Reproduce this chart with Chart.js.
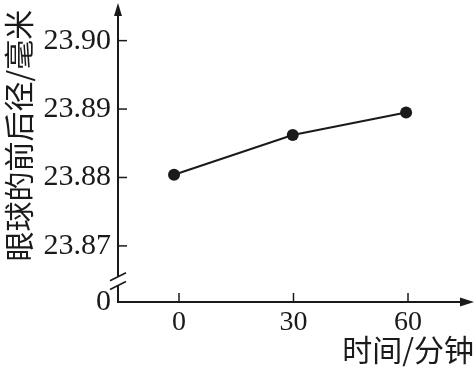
<!DOCTYPE html>
<html>
<head>
<meta charset="utf-8">
<script src="https://cdn.jsdelivr.net/npm/chart.js@4/dist/chart.umd.min.js"></script>
<style>
html,body{margin:0;padding:0;background:#fff;}
#c{display:block;}
</style>
</head>
<body>
<canvas id="c" width="476" height="370"></canvas>
<script>
// ---- data ----
const timeMinutes = [-1.3, 29.8, 59.5];          // measured x positions of points
const eyeLength = [23.8804, 23.8862, 23.8895];    // 眼球的前后径 (mm)
const xTickValues = [0, 30, 60];
const xTickLabels = ['0', '30', '60'];
const yTickValues = [23.87, 23.88, 23.89, 23.90];
const yTickLabels = ['23.87', '23.88', '23.89', '23.90'];
const yZeroLabel = '0';
const xTitle = '时间/分钟';
const yTitle = '眼球的前后径/毫米';
// axis extents (broken axis)
const xMin = -15.98, xMax = 77.29;
const yMin = 23.8618, yMax = 23.9055;
const breakTop = 23.8655, breakBottom = 23.8642;

const ink = '#1a1a1a';
const serif = "'Liberation Serif', 'Times New Roman', serif";
const cjk = "'Noto Sans CJK SC', sans-serif";

const axesPlugin = {
  id: 'customAxes',
  beforeDatasetsDraw(chart) {
    const {ctx, chartArea: a, scales: {x, y}} = chart;
    ctx.save();
    ctx.strokeStyle = ink;
    ctx.fillStyle = ink;
    ctx.lineWidth = 2;
    ctx.lineCap = 'butt';
    const ax = a.left, ay = a.bottom;
    const bT = y.getPixelForValue(breakTop);
    const bB = y.getPixelForValue(breakBottom);
    // y axis (two segments with a break)
    ctx.beginPath();
    ctx.moveTo(ax, ay + 1);
    ctx.lineTo(ax, bB);
    ctx.moveTo(ax, bT);
    ctx.lineTo(ax, a.top + 8);
    ctx.stroke();
    // y arrow
    ctx.beginPath();
    ctx.moveTo(ax, a.top);
    ctx.lineTo(ax - 4, a.top + 13);
    ctx.lineTo(ax + 4, a.top + 13);
    ctx.closePath();
    ctx.fill();
    // break slashes
    ctx.lineWidth = 1.6;
    [bT, bB].forEach(py => {
      ctx.beginPath();
      ctx.moveTo(ax - 8, py + 4);
      ctx.lineTo(ax + 8, py - 4);
      ctx.stroke();
    });
    // x axis
    ctx.lineWidth = 2;
    ctx.beginPath();
    ctx.moveTo(ax - 1, ay);
    ctx.lineTo(a.right - 8, ay);
    ctx.stroke();
    ctx.beginPath();
    ctx.moveTo(a.right, ay);
    ctx.lineTo(a.right - 14, ay - 4.5);
    ctx.lineTo(a.right - 14, ay + 4.5);
    ctx.closePath();
    ctx.fill();
    // inward tick marks
    ctx.lineWidth = 1.5;
    yTickValues.forEach(v => {
      const py = y.getPixelForValue(v);
      ctx.beginPath();
      ctx.moveTo(ax, py);
      ctx.lineTo(ax + 9, py);
      ctx.stroke();
    });
    xTickValues.forEach(v => {
      const px = x.getPixelForValue(v);
      ctx.beginPath();
      ctx.moveTo(px, ay);
      ctx.lineTo(px, ay - 9);
      ctx.stroke();
    });
    ctx.restore();
  }
};

new Chart(document.getElementById('c'), {
  type: 'line',
  data: {
    datasets: [{
      data: timeMinutes.map((t, i) => ({x: t, y: eyeLength[i]})),
      borderColor: ink,
      borderWidth: 2,
      pointRadius: 6,
      pointBackgroundColor: ink,
      pointBorderColor: ink,
      pointBorderWidth: 0,
      tension: 0,
      clip: false
    }]
  },
  options: {
    responsive: false,
    devicePixelRatio: 1,
    animation: false,
    events: [],
    layout: {autoPadding: false, padding: {top: 3, right: 2, left: 0, bottom: 0}},
    plugins: {legend: {display: false}, tooltip: {enabled: false}},
    scales: {
      x: {
        type: 'linear',
        min: xMin, max: xMax,
        afterFit(s) { s.height = 68; s.paddingLeft = 0; s.paddingRight = 0; },
        afterBuildTicks(s) { s.ticks = xTickValues.map(v => ({value: v})); },
        grid: {display: false, drawTicks: false},
        border: {display: false},
        ticks: {
          autoSkip: false, maxRotation: 0,
          padding: 4, color: ink,
          font: {family: serif, size: 28},
          callback(v) { const i = xTickValues.indexOf(v); return i >= 0 ? xTickLabels[i] : ''; }
        },
        title: {
          display: true, text: xTitle, align: 'end', color: ink,
          font: {family: cjk, size: 30},
          padding: {top: 0, bottom: 2}
        }
      },
      y: {
        type: 'linear',
        position: 'left',
        min: yMin, max: yMax,
        afterFit(s) { s.width = 118; s.paddingTop = 0; s.paddingBottom = 0; },
        afterBuildTicks(s) { s.ticks = [yMin].concat(yTickValues).map(v => ({value: v})); },
        grid: {display: false, drawTicks: false},
        border: {display: false},
        ticks: {
          autoSkip: false,
          padding: 7, color: ink,
          font: {family: serif, size: 30},
          callback(v) {
            if (Math.abs(v - yMin) < 1e-9) return yZeroLabel;
            const i = yTickValues.findIndex(t => Math.abs(t - v) < 1e-9);
            return i >= 0 ? yTickLabels[i] : '';
          }
        },
        title: {
          display: true, text: yTitle + ' ', align: 'end', color: ink,
          font: {family: cjk, size: 30},
          padding: {top: 1, bottom: 0}
        }
      }
    }
  },
  plugins: [axesPlugin]
});
</script>
</body>
</html>
